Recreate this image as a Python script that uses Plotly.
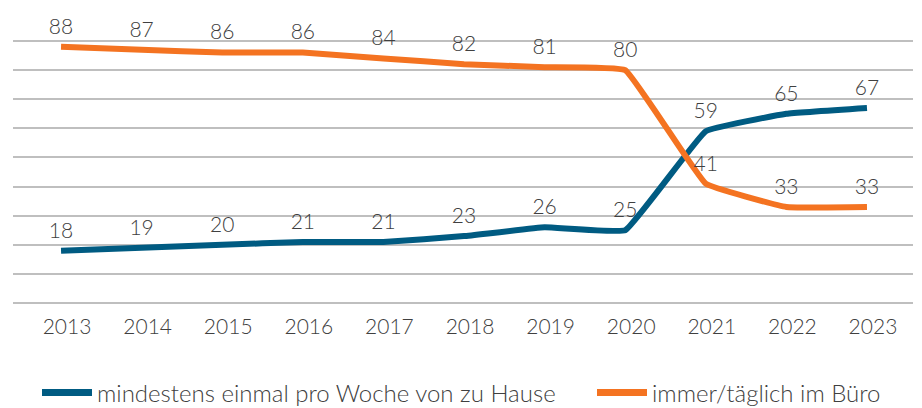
import plotly.graph_objects as go

years = [2013, 2014, 2015, 2016, 2017, 2018, 2019, 2020, 2021, 2022, 2023]
home = [18, 19, 20, 21, 21, 23, 26, 25, 59, 65, 67]
office = [88, 87, 86, 86, 84, 82, 81, 80, 41, 33, 33]
series_names = ["mindestens einmal pro Woche von zu Hause", "immer/täglich im Büro"]
colors = ["#005b82", "#f47321"]

FONT = "Lato"
TXT = "#404040"

fig = go.Figure()
for vals, name, col in [(home, series_names[0], colors[0]), (office, series_names[1], colors[1])]:
    fig.add_trace(go.Scatter(
        x=years, y=vals, name=name, showlegend=False,
        mode="lines+markers+text",
        line=dict(color=col, width=6, shape="spline", smoothing=0.25),
        marker=dict(size=11, color=col, opacity=0),
        text=[str(v) for v in vals],
        textposition="top center",
        textfont=dict(family=FONT, size=21, color=TXT, weight=300),
        cliponaxis=False,
    ))
# legend entries (one legend per entry to reproduce spacing)
for name, col, lg in zip(series_names, colors, ["legend", "legend2"]):
    fig.add_trace(go.Scatter(
        x=[None], y=[None], name=name, mode="lines",
        line=dict(color=col, width=7), showlegend=True, legend=lg,
    ))

plot_h = 408 - 38 - 102
leg_y = -(393 - 306) / plot_h
leg_common = dict(orientation="h", xanchor="left", y=leg_y, yanchor="middle",
                  font=dict(family=FONT, size=24, color=TXT, weight=300),
                  itemwidth=50, bgcolor="rgba(0,0,0,0)")
fig.update_layout(
    width=922, height=408,
    margin=dict(l=13, r=9, t=38, b=102, autoexpand=False),
    paper_bgcolor="white", plot_bgcolor="white",
    showlegend=True,
    legend=dict(x=(37 - 13) / 900, **leg_common),
    legend2=dict(x=(592 - 13) / 900, **leg_common),
    font=dict(family=FONT, color=TXT),
)
fig.update_xaxes(
    range=[2012.404, 2023.571],
    tickmode="array", tickvals=years, ticktext=[str(y) for y in years],
    showgrid=False, zeroline=False, showline=False, ticks="",
    tickfont=dict(family=FONT, size=21, color=TXT, weight=300),
    ticklabelshift=6, ticklabelstandoff=6,
)
fig.update_yaxes(
    range=[-1, 91], tickmode="array", tickvals=list(range(0, 91, 10)),
    showticklabels=False, showgrid=True, gridcolor="#bfbfbf", gridwidth=1.5,
    zeroline=False, showline=False,
)
fig.write_html("out.html")
